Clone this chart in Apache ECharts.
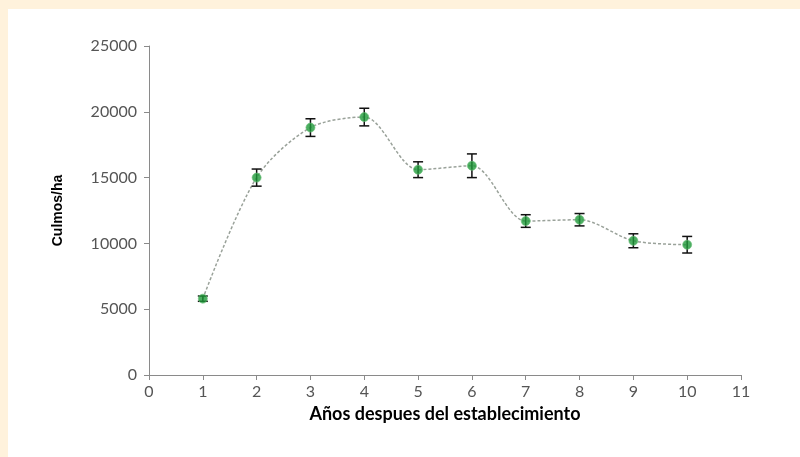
<!DOCTYPE html>
<html>
<head>
<meta charset="utf-8">
<script src="https://cdn.jsdelivr.net/npm/echarts@6/dist/echarts.min.js"></script>
<style>
html,body{margin:0;padding:0;width:800px;height:457px;background:#FFF2DC;overflow:hidden;}
#c{position:absolute;left:8px;top:9px;width:792px;height:448px;background:#ffffff;}
</style>
</head>
<body>
<div id="c"></div>
<script>
var years = [1, 2, 3, 4, 5, 6, 7, 8, 9, 10];
var culmos = [5800, 15000, 18800, 19600, 15600, 15900, 11700, 11800, 10200, 9900];
var errors = [200, 650, 670, 670, 600, 900, 480, 470, 530, 630];
var xTicks = [0, 1, 2, 3, 4, 5, 6, 7, 8, 9, 10, 11];
var yTicks = [0, 5000, 10000, 15000, 20000, 25000];

var chart = echarts.init(document.getElementById('c'));
var lineData = years.map(function (x, i) { return [x, culmos[i]]; });
var errData = years.map(function (x, i) { return [x, culmos[i] - errors[i], culmos[i] + errors[i]]; });

chart.setOption({
  animation: false,
  grid: { left: 141, right: 59, top: 37, bottom: 82 },
  xAxis: {
    type: 'value', min: xTicks[0], max: xTicks[xTicks.length - 1], interval: 1,
    name: 'Años despues del establecimiento', nameLocation: 'middle', nameGap: 20,
    nameTextStyle: { fontFamily: 'Lato', fontWeight: 'bold', fontSize: 18, color: '#000' },
    axisLine: { lineStyle: { color: '#8a8a8a' } },
    axisTick: { show: true, length: 5, lineStyle: { color: '#8a8a8a' } },
    axisLabel: { fontFamily: 'Lato', fontSize: 16, color: '#555', margin: 9 },
    splitLine: { show: false }
  },
  yAxis: {
    type: 'value', min: yTicks[0], max: yTicks[yTicks.length - 1], interval: 5000,
    name: 'Culmos/ha', nameLocation: 'middle', nameGap: 84, nameRotate: 90,
    nameTextStyle: { fontFamily: 'Liberation Sans', fontWeight: 'bold', fontSize: 14, color: '#000' },
    axisLine: { show: true, lineStyle: { color: '#8a8a8a' } },
    axisTick: { show: true, length: 5, lineStyle: { color: '#8a8a8a' } },
    axisLabel: { fontFamily: 'Lato', fontSize: 16, color: '#555', margin: 12,
      formatter: function (v) { return String(v); } },
    splitLine: { show: false }
  },
  series: [
    {
      type: 'line', data: lineData, smooth: 0.3,
      lineStyle: { color: '#9aa29a', width: 1.5, type: [3, 2] },
      symbol: 'none', z: 2
    },
    {
      type: 'custom', z: 3,
      renderItem: function (params, api) {
        var x = api.value(0);
        var lo = api.coord([x, api.value(1)]);
        var hi = api.coord([x, api.value(2)]);
        var w = 5;
        var st = { stroke: '#111', lineWidth: 1.5 };
        return {
          type: 'group',
          children: [
            { type: 'line', shape: { x1: lo[0], y1: lo[1], x2: hi[0], y2: hi[1] }, style: st },
            { type: 'line', shape: { x1: lo[0] - w, y1: lo[1], x2: lo[0] + w, y2: lo[1] }, style: st },
            { type: 'line', shape: { x1: hi[0] - w, y1: hi[1], x2: hi[0] + w, y2: hi[1] }, style: st }
          ]
        };
      },
      encode: { x: 0, y: [1, 2] },
      data: errData
    },
    {
      type: 'scatter', data: lineData, symbol: 'circle', symbolSize: 9, z: 4,
      itemStyle: { color: '#1f9a3a', borderColor: '#6cc07a', borderWidth: 0.8 }
    }
  ]
});
</script>
</body>
</html>
